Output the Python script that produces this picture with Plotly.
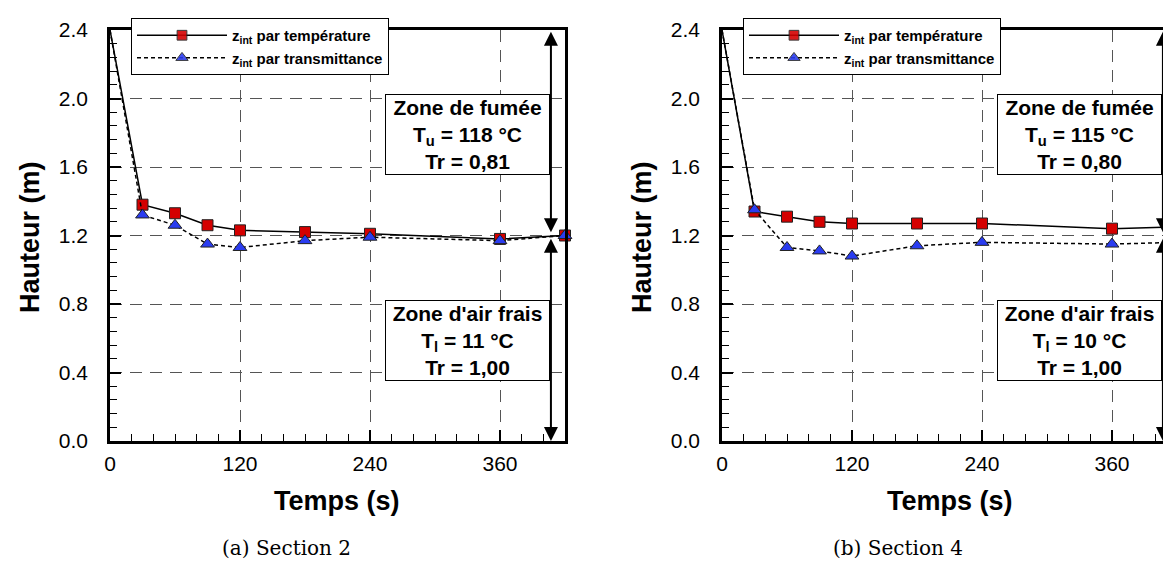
import plotly.graph_objects as go

# ---------------- data ----------------
temps = [0, 30, 60, 90, 120, 180, 240, 360, 420]
s2_temperature = [2.40, 1.38, 1.33, 1.26, 1.23, 1.22, 1.21, 1.18, 1.20]
s2_transmittance = [2.40, 1.32, 1.26, 1.15, 1.13, 1.17, 1.19, 1.17, 1.20]
s4_temperature = [2.40, 1.34, 1.31, 1.28, 1.27, 1.27, 1.27, 1.24, 1.25]
s4_transmittance = [2.40, 1.35, 1.13, 1.11, 1.08, 1.14, 1.16, 1.15, 1.16]

x_ticks = [0, 120, 240, 360]
y_ticks = [0.0, 0.4, 0.8, 1.2, 1.6, 2.0, 2.4]

series_names = ["z<sub>int</sub> par température", "z<sub>int</sub> par transmittance"]
captions = ["(a) Section 2", "(b) Section 4"]
smoke_text = [("118", "0,81"), ("115", "0,80")]
fresh_text = [("11", "1,00"), ("10", "1,00")]
interface = 1.2
arrow_t = 407

W, H = 1171, 566
FONT = "Liberation Sans"

fig = go.Figure()

# per-point marker visibility (no marker at t=0)
msize_sq = [0] + [11] * (len(temps) - 1)
msize_tr = [0] + [12] * (len(temps) - 1)
mop = [0] + [1] * (len(temps) - 1)

panels = [
    ("x", "y", "legend", s2_temperature, s2_transmittance),
    ("x2", "y2", "legend2", s4_temperature, s4_transmittance),
]
for xa, ya, lg, tvals, trvals in panels:
    fig.add_trace(go.Scatter(
        x=temps, y=tvals, xaxis=xa, yaxis=ya, legend=lg,
        name=series_names[0], mode="lines+markers", cliponaxis=False,
        line=dict(color="black", width=1.5),
        marker=dict(symbol="square", size=msize_sq, color="#d40000", opacity=mop,
                    line=dict(color="#222", width=1)),
    ))
    fig.add_trace(go.Scatter(
        x=temps, y=trvals, xaxis=xa, yaxis=ya, legend=lg,
        name=series_names[1], mode="lines+markers", cliponaxis=False,
        line=dict(color="black", width=1.5, dash="4px,3px"),
        marker=dict(symbol="triangle-up", size=msize_tr, color="#2a3cf0", opacity=mop,
                    line=dict(color="#222", width=1)),
    ))

# geometry (pixels)
left_px = [102, 714]
plot_w = 455
top_px, bot_px = 22, 433


def px2paper_x(px):
    return px / W


def px2paper_y(py):
    return (H - py) / H


axis_common = dict(
    showline=True, linecolor="black", linewidth=2.5, mirror=True, automargin=False,
    ticks="inside", tickcolor="black", tickwidth=1.5,
    showgrid=True, gridcolor="#555", gridwidth=1.2, griddash="12px,8px",
    zeroline=False, tickfont=dict(family=FONT, size=21, color="black"),
)

for i in range(2):
    sx = "" if i == 0 else "2"
    fig.update_layout(**{
        f"xaxis{sx}": dict(
            axis_common,
            domain=[px2paper_x(left_px[i]), px2paper_x(left_px[i] + plot_w)],
            range=[0, 420], tickvals=x_ticks, ticklen=11, ticklabelstandoff=2,
            minor=dict(dtick=20, ticks="inside", ticklen=7, tickcolor="black", tickwidth=1, showgrid=False),
            anchor=f"y{sx}",
        ),
        f"yaxis{sx}": dict(
            axis_common,
            domain=[px2paper_y(bot_px), px2paper_y(top_px)],
            range=[0, 2.4], tickvals=y_ticks, tickformat=".1f", ticklen=11, ticklabelstandoff=15,
            minor=dict(dtick=0.08, ticks="inside", ticklen=7, tickcolor="black", tickwidth=1, showgrid=False),
            anchor=f"x{sx}",
        ),
    })

legend_common = dict(
    xref="container", yref="container",
    xanchor="left", yanchor="top", bgcolor="white", bordercolor="black", borderwidth=1,
    font=dict(family=FONT, size=15, color="black", weight="bold"),
    itemwidth=90, tracegroupgap=0,
)
fig.update_layout(
    legend=dict(legend_common, x=px2paper_x(123), y=px2paper_y(10)),
    legend2=dict(legend_common, x=px2paper_x(735), y=px2paper_y(10)),
)

annotations = []
for i in range(2):
    sx = "" if i == 0 else "2"
    xr, yr = f"x{sx}", f"y{sx}"
    # zone boxes
    annotations.append(dict(
        xref=xr, yref=yr, x=330, y=1.79, showarrow=False,
        text=f"<b>Zone de fumée</b><br><b>T<sub>u</sub> = {smoke_text[i][0]} °C</b><br><b>Tr = {smoke_text[i][1]}</b>",
        font=dict(family=FONT, size=21, color="black"), align="center",
        bgcolor="white", bordercolor="black", borderwidth=1, width=161, height=77,
    ))
    annotations.append(dict(
        xref=xr, yref=yr, x=330, y=0.586, showarrow=False,
        text=f"<b>Zone d'air frais</b><br><b>T<sub>l</sub> = {fresh_text[i][0]} °C</b><br><b>Tr = {fresh_text[i][1]}</b>",
        font=dict(family=FONT, size=21, color="black"), align="center",
        bgcolor="white", bordercolor="black", borderwidth=1, width=161, height=77,
    ))
    # double-headed arrows
    annotations.append(dict(
        xref=xr, yref=yr, axref=xr, ayref=yr, x=arrow_t, y=2.39, ax=arrow_t, ay=interface + 0.01,
        text="", showarrow=True, arrowside="end+start", arrowhead=2, arrowsize=1.4,
        arrowwidth=2, arrowcolor="black",
    ))
    annotations.append(dict(
        xref=xr, yref=yr, axref=xr, ayref=yr, x=arrow_t, y=0.0, ax=arrow_t, ay=interface - 0.01,
        text="", showarrow=True, arrowside="end+start", arrowhead=2, arrowsize=1.4,
        arrowwidth=2, arrowcolor="black",
    ))
    # axis titles
    annotations.append(dict(
        xref="paper", yref="paper", x=px2paper_x(left_px[i] + plot_w / 2), y=px2paper_y(493),
        text="<b>Temps (s)</b>", showarrow=False, xanchor="center", yanchor="middle",
        font=dict(family=FONT, size=27, color="black"),
    ))
    annotations.append(dict(
        xref="paper", yref="paper", x=px2paper_x(left_px[i] - 80), y=px2paper_y(229),
        text="<b>Hauteur (m)</b>", showarrow=False, textangle=-90, xanchor="center", yanchor="middle",
        font=dict(family=FONT, size=27, color="black"),
    ))
    # captions
    annotations.append(dict(
        xref="paper", yref="paper", x=px2paper_x(left_px[i] + 176), y=px2paper_y(540),
        text=captions[i], showarrow=False, xanchor="center", yanchor="middle",
        font=dict(family="DejaVu Serif", size=20, color="black"),
    ))

fig.update_layout(
    template="none",
    width=W, height=H, autosize=False,
    margin=dict(l=0, r=0, t=0, b=0, autoexpand=False),
    paper_bgcolor="white", plot_bgcolor="white",
    annotations=annotations, showlegend=True,
)

fig.write_html("out.html")
